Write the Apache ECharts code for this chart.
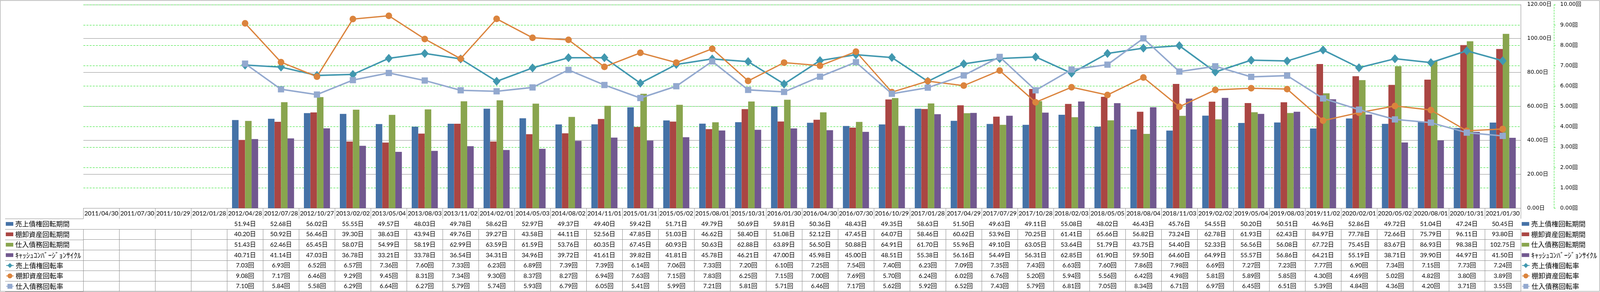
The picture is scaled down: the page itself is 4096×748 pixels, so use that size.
<!DOCTYPE html>
<html><head><meta charset="utf-8">
<script src="https://cdn.jsdelivr.net/npm/echarts/dist/echarts.min.js"></script>
<style>html,body{margin:0;padding:0;background:#fff}#c{width:4096px;height:748px}</style>
</head><body><div id="c"></div>
<script>
const categories = ['2011/04/30','2011/07/30','2011/10/29','2012/01/28','2012/04/28','2012/07/28','2012/10/27','2013/02/02','2013/05/04','2013/08/03','2013/11/02','2014/02/01','2014/05/03','2014/08/02','2014/11/01','2015/01/31','2015/05/02','2015/08/01','2015/10/31','2016/01/30','2016/04/30','2016/07/30','2016/10/29','2017/01/28','2017/04/29','2017/07/29','2017/10/28','2018/02/03','2018/05/05','2018/08/04','2018/11/03','2019/02/02','2019/05/04','2019/08/03','2019/11/02','2020/02/01','2020/05/02','2020/08/01','2020/10/31','2021/01/30'];
const arDays  = [null,null,null,null,51.94,52.68,56.02,55.55,49.57,48.03,49.78,58.62,52.97,49.37,49.40,59.42,51.71,49.79,50.69,59.81,50.36,48.43,49.35,58.63,51.50,49.63,49.11,55.08,48.02,46.43,45.76,54.55,50.20,50.51,46.96,52.86,49.72,51.04,47.24,50.45];
const invDays = [null,null,null,null,40.20,50.92,56.46,39.30,38.63,43.94,49.76,39.27,43.58,44.11,52.56,47.85,51.03,46.62,58.40,51.08,52.12,47.45,64.07,58.46,60.62,53.96,70.25,61.41,65.66,56.82,73.24,62.78,61.93,62.43,84.97,77.78,72.66,75.79,96.11,93.80];
const apDays  = [null,null,null,null,51.43,62.46,65.45,58.07,54.99,58.19,62.99,63.59,61.59,53.76,60.35,67.45,60.93,50.63,62.88,63.89,56.50,50.88,64.91,61.70,55.96,49.10,63.05,53.64,51.79,43.75,54.40,52.33,56.56,56.08,67.72,75.45,83.67,86.93,98.38,102.75];
const cccDays = [null,null,null,null,40.71,41.14,47.03,36.78,33.21,33.78,36.54,34.31,34.96,39.72,41.61,39.82,41.81,45.78,46.21,47.00,45.98,45.00,48.51,55.38,56.16,54.49,56.31,62.85,61.90,59.50,64.60,64.99,55.57,56.86,64.21,55.19,38.71,39.90,44.97,41.50];
const arTurn  = [null,null,null,null,7.03,6.93,6.52,6.57,7.36,7.60,7.33,6.23,6.89,7.39,7.39,6.14,7.06,7.33,7.20,6.10,7.25,7.54,7.40,6.23,7.09,7.35,7.43,6.63,7.60,7.86,7.98,6.69,7.27,7.23,7.77,6.90,7.34,7.15,7.73,7.24];
const invTurn = [null,null,null,null,9.08,7.17,6.46,9.29,9.45,8.31,7.34,9.30,8.37,8.27,6.94,7.63,7.15,7.83,6.25,7.15,7.00,7.69,5.70,6.24,6.02,6.76,5.20,5.94,5.56,6.42,4.98,5.81,5.89,5.85,4.30,4.69,5.02,4.82,3.80,3.89];
const apTurn  = [null,null,null,null,7.10,5.84,5.58,6.29,6.64,6.27,5.79,5.74,5.93,6.79,6.05,5.41,5.99,7.21,5.81,5.71,6.46,7.17,5.62,5.92,6.52,7.43,5.79,6.81,7.05,8.34,6.71,6.97,6.45,6.51,5.39,4.84,4.36,4.20,3.71,3.55];
const seriesNames = ['売上債権回転期間','棚卸資産回転期間','仕入債務回転期間','ｷｬｯｼｭｺﾝﾊﾞｰｼﾞｮﾝｻｲｸﾙ','売上債権回転率','棚卸資産回転率','仕入債務回転率'];
const dayTicks = {min:0, max:120, interval:20};
const turnTicks = {min:0, max:10, interval:1};

const S = 4096/4701;
const colors = ['#4572A7','#AA4643','#89A54E','#71588F','#4198AF','#DB843D','#93A9CF'];
const barData = [arDays, invDays, apDays, cccDays];
const lineData = [arTurn, invTurn, apTurn];
const units = ['日','日','日','日','回','回','回'];
const allRows = [arDays, invDays, apDays, cccDays, arTurn, invTurn, apTurn];

const plotL = 245*S, plotR = 4468*S, plotT = 13.5*S, plotB = 612*S;
const H = 748, W = 4096;
const headerH = (643-612)*S;
const rowH = (857-643)/7*S;
const gray = '#8a8a8a';
const green = '#1fe01f';
const tableFont = 'Lato, "Noto Sans CJK JP", sans-serif';
const cjkFont = '"Noto Sans CJK JP", sans-serif';

const xAxes = [];
xAxes.push({
  type:'category', data: categories, gridIndex:0, position:'bottom', offset:0,
  axisLine:{show:true, lineStyle:{color:gray, width:1}},
  axisTick:{show:true, length:headerH, interval:0, lineStyle:{color:gray, width:1}},
  axisLabel:{interval:0, margin:headerH/2, verticalAlign:'middle', color:'#000', fontSize:18*S, fontFamily:tableFont},
  splitLine:{show:false}
});
allRows.forEach((row, r) => {
  xAxes.push({
    type:'category', data: categories, gridIndex:0, position:'bottom', offset: headerH + rowH*r,
    axisLine:{show:true, lineStyle:{color:gray, width:1}},
    axisTick:{show:true, length:rowH, interval:0, lineStyle:{color:gray, width:1}},
    axisLabel:{interval:0, margin:rowH/2, verticalAlign:'middle', color:'#000', fontSize:18*S, fontFamily:tableFont,
      formatter: (v, i) => row[i] == null ? '' : row[i].toFixed(2) + units[r]},
    splitLine:{show:false}
  });
});
xAxes.push({
  type:'category', data: categories, gridIndex:0, position:'bottom', offset: headerH + rowH*7,
  axisLine:{show:true, lineStyle:{color:gray, width:1}},
  axisTick:{show:false}, axisLabel:{show:false}, splitLine:{show:false}
});

const series = [];
barData.forEach((d, i) => {
  series.push({
    name: seriesNames[i], type:'bar', xAxisIndex:0, yAxisIndex:0, data:d,
    barGap:'0%', barCategoryGap:'27.4%', itemStyle:{color:colors[i]}, z:2
  });
});
const symbols = ['diamond','circle','rect'];
const symSizes = [[20,23],[17,17],[16,16]];
const lineW = [3.8, 3.3, 3.8];
lineData.forEach((d, i) => {
  series.push({
    name: seriesNames[4+i], type:'line', xAxisIndex:0, yAxisIndex:1, data:d,
    symbol: symbols[i], symbolSize: symSizes[i], showAllSymbol:true,
    lineStyle:{color:colors[4+i], width:lineW[i]}, itemStyle:{color:colors[4+i]}, z:5
  });
});

const textCommon = {fontSize:20*S, lineHeight:rowH, color:'#000', fontFamily:cjkFont};
function makeLegends(left) {
  return [
    {orient:'vertical', left:left, top: plotB + headerH, padding:0, itemGap:0,
     itemWidth: 22*S, itemHeight: 11*S, selectedMode:false, textStyle:textCommon,
     data: seriesNames.slice(0,4).map((n, i) => i === 3
       ? {name:n, icon:'rect', textStyle:{fontSize:21.5*S, lineHeight:rowH}}
       : {name:n, icon:'rect'})},
    {orient:'vertical', left:left, top: plotB + headerH + rowH*4, padding:0, itemGap:0,
     itemWidth: 22*S, itemHeight: 18*S, selectedMode:false, textStyle:textCommon,
     data: seriesNames.slice(4).map(n => ({name:n}))}
  ];
}

const graphics = [
  {type:'rect', shape:{x:0.5, y:1*S+0.5, width:W-1.5, height:856*S-1}, style:{fill:null, stroke:gray, lineWidth:1}, silent:true}
];
for (let k = 0; k <= 7; k++) {
  const y = Math.round(plotB + headerH + rowH*k) + 0.5;
  graphics.push({type:'line', shape:{x1:15*S, y1:y, x2:plotL, y2:y}, style:{stroke:gray, lineWidth:1}, silent:true});
}

const chart = echarts.init(document.getElementById('c'), null, {renderer:'canvas'});
chart.setOption({
  animation:false,
  backgroundColor:'#fff',
  grid:{left:plotL, right:W-plotR, top:plotT, bottom:H-plotB, containLabel:false},
  legend: makeLegends(17*S).concat(makeLegends(4471*S)),
  xAxis: xAxes,
  yAxis:[
    {type:'value', position:'right', min:dayTicks.min, max:dayTicks.max, interval:dayTicks.interval,
     axisLine:{show:true, lineStyle:{color:gray, width:1}}, axisTick:{show:false},
     axisLabel:{margin:(4487-4468)*S, color:'#000', fontSize:16*S, fontFamily:'"DejaVu Sans", "Noto Sans CJK JP", sans-serif',
       formatter: v => v.toFixed(2) + '日'},
     splitLine:{show:true, lineStyle:{color:gray, width:1}}},
    {type:'value', position:'right', offset:(4566-4468)*S, min:turnTicks.min, max:turnTicks.max, interval:turnTicks.interval,
     axisLine:{show:true, lineStyle:{color:green, width:1, type:[4,3]}},
     axisTick:{show:true, length:4, lineStyle:{color:green, width:1}},
     axisLabel:{margin:(4584-4566)*S, color:'#000', fontSize:16*S, fontFamily:'"DejaVu Sans", "Noto Sans CJK JP", sans-serif',
       formatter: v => v.toFixed(2) + '回'},
     splitLine:{show:true, lineStyle:{color:green, width:1, type:[5,3]}}}
  ],
  series: series,
  graphic: graphics
});
</script></body></html>
